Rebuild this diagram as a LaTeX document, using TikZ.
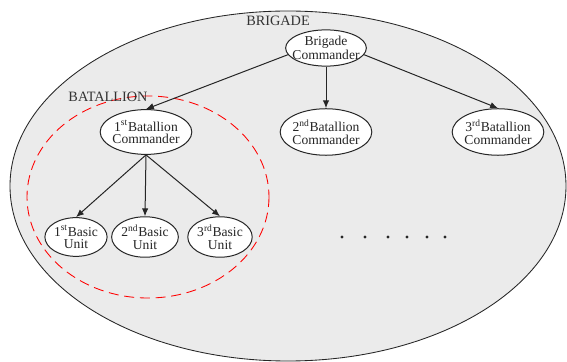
\documentclass[tikz,border=0pt]{standalone}
\usepackage{fontspec}
\setmainfont{Liberation Serif}
\usepackage{xcolor}
\usetikzlibrary{arrows.meta,shapes.geometric}

\begin{document}
\begin{tikzpicture}[x=0.7pt, y=-0.7pt,
  cmd/.style={draw=black!85, ellipse, fill=white, line width=0.7pt, align=center, text=black!85,
              font=\fontsize{9.5}{8.5}\selectfont, inner xsep=-0.8pt, inner ysep=3pt},
  unit/.style={cmd, inner xsep=0pt, inner ysep=1.5pt},
  grp/.style={font=\fontsize{10}{12}\selectfont, text=black!80},
  arr/.style={-{Latex[length=5.5pt,width=4.5pt]}, line width=0.7pt, draw=black!85}]
  \useasboundingbox (0,0) rectangle (567,362);
  % brigade area
  \draw[fill=black!8, line width=0.6pt, draw=black!85] (288,186) ellipse [x radius=278, y radius=175];
  \node[grp] (brig) at (278,21) {BRIGADE};
  % batallion area
  \draw[red, dash pattern=on 7pt off 4pt, line width=0.6pt] (148,197) ellipse [x radius=121, y radius=101];
  \node[grp] (bat) at (108,97) {BATALLION};
  % commanders
  \node[cmd, inner xsep=-3.5pt, inner ysep=0.8pt] (bc) at (326,48) {Brigade\\Commander};
  \node[cmd] (b1) at (146,132) {1\textsuperscript{st}Batallion\\Commander};
  \node[cmd] (b2) at (326,132) {2\textsuperscript{nd}Batallion\\Commander};
  \node[cmd] (b3) at (498,132) {3\textsuperscript{rd}Batallion\\Commander};
  % basic units
  \node[unit] (u1) at (76,237) {1\textsuperscript{st}Basic\\Unit};
  \node[unit] (u2) at (145,237) {2\textsuperscript{nd}Basic\\Unit};
  \node[unit] (u3) at (220,237) {3\textsuperscript{rd}Basic\\Unit};
  \draw[arr] (bc.190) -- (b1.north);
  \draw[arr] (bc.south) -- (b2.north);
  \draw[arr] (bc.350) -- (b3.north);
  \foreach \u in {u1,u2,u3}
    \draw[arr] (b1.south) -- (\u.north);
  % more batallions
  \foreach \x in {342,365,388,407,427,445}
    \fill[black!85] (\x,237) circle (1.6);
\end{tikzpicture}
\end{document}
